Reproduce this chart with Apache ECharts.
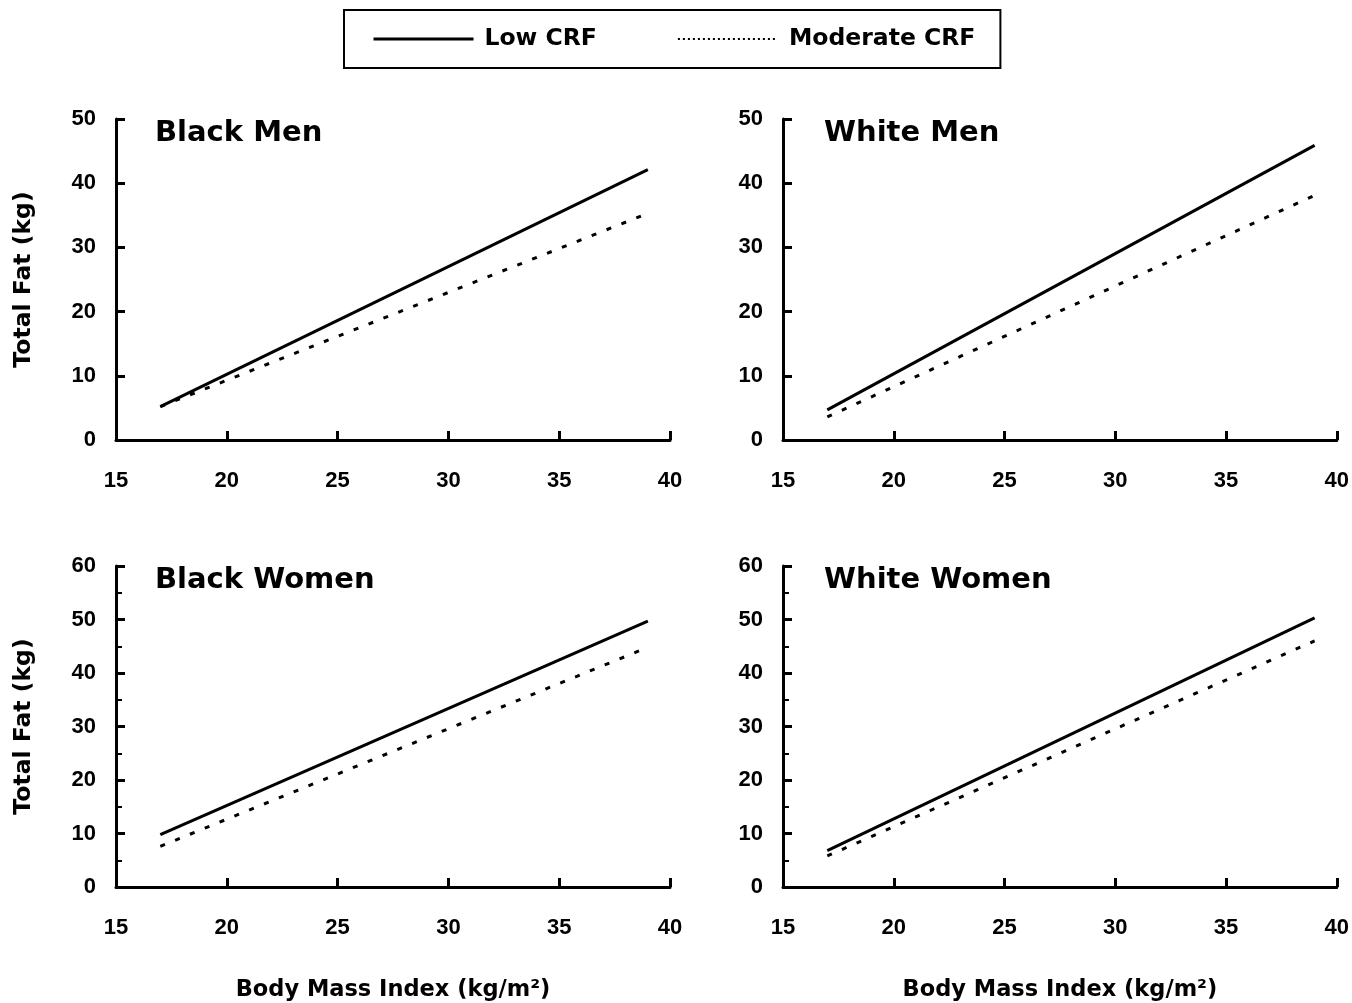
<!DOCTYPE html>
<html>
<head>
<meta charset="utf-8">
<title>Total fat vs BMI by CRF</title>
<script src="https://cdn.jsdelivr.net/npm/echarts@6/dist/echarts.min.js"></script>
<style>
  html, body { margin: 0; padding: 0; background: #fff; }
  #main { width: 1352px; height: 1003px; }
</style>
</head>
<body>
<div id="main"></div>
<script>
// panel titles
var panels = ['Black Men', 'White Men', 'Black Women', 'White Women']
// BMI range of each fitted line (x values)
var bmi = [17, 39]
// total fat (kg) at the two ends
var lowCRF = [
  [5.2, 42.1],
  [4.7, 45.9],
  [9.8, 49.7],
  [6.8, 50.3]
]
var moderateCRF = [
  [5.2, 35.3],
  [3.6, 38.1],
  [7.6, 44.8],
  [5.8, 46.0]
]
var yMax = [50, 50, 60, 60]

var wide = 'DejaVu Sans, Verdana, sans-serif'
var narrow = 'Liberation Sans, Arial, sans-serif'
var grids = [
  { left: 116, top: 119, width: 554, height: 321 },
  { left: 783, top: 119, width: 555, height: 321 },
  { left: 116, top: 566, width: 554, height: 322 },
  { left: 783, top: 566, width: 555, height: 322 }
]

function pairs (ys) {
  return bmi.map(function (x, i) { return [x, ys[i]] })
}

var xAxes = []
var yAxes = []
var series = []
var titles = []
panels.forEach(function (name, i) {
  var bottom = i >= 2
  var left = i % 2 === 0
  titles.push({
    text: name,
    left: grids[i].left + (left ? 34 : 36),
    top: grids[i].top - 5,
    textStyle: { fontFamily: wide, fontWeight: 'bold', fontSize: 29, color: '#000' }
  })
  xAxes.push({
    type: 'value',
    gridIndex: i,
    min: 15,
    max: 40,
    interval: 5,
    name: bottom ? 'Body Mass Index (kg/m²)' : '',
    nameLocation: 'middle',
    nameGap: 92,
    nameTextStyle: { fontFamily: wide, fontWeight: 'bold', fontSize: 22.5, color: '#000' },
    axisLine: { lineStyle: { color: '#000', width: 3 } },
    axisTick: { inside: true, length: 9, lineStyle: { color: '#000', width: 3 } },
    axisLabel: { margin: 30, fontFamily: narrow, fontWeight: 'bold', fontSize: 22, color: '#000' },
    splitLine: { show: false }
  })
  yAxes.push({
    type: 'value',
    gridIndex: i,
    min: 0,
    max: yMax[i],
    interval: 10,
    name: left ? 'Total Fat (kg)' : '',
    nameLocation: 'middle',
    nameGap: 80,
    nameTextStyle: { fontFamily: wide, fontWeight: 'bold', fontSize: 23.5, color: '#000' },
    axisLine: { show: true, lineStyle: { color: '#000', width: 3 } },
    axisTick: { inside: true, length: 9, lineStyle: { color: '#000', width: 3 } },
    minorTick: { show: bottom, splitNumber: 2, length: 6, lineStyle: { color: '#000', width: 2 } },
    axisLabel: { margin: 20, fontFamily: narrow, fontWeight: 'bold', fontSize: 22, color: '#000' },
    splitLine: { show: false }
  })
  series.push({
    name: 'Low CRF',
    type: 'line',
    xAxisIndex: i,
    yAxisIndex: i,
    symbol: 'none',
    data: pairs(lowCRF[i]),
    lineStyle: { color: '#000', width: 3 },
    itemStyle: { color: '#000' }
  })
  series.push({
    name: 'Moderate CRF',
    type: 'line',
    xAxisIndex: i,
    yAxisIndex: i,
    symbol: 'none',
    data: pairs(moderateCRF[i]),
    lineStyle: { color: '#000', width: 3, type: [5, 11] },
    itemStyle: { color: '#000' }
  })
})

var chart = echarts.init(document.getElementById('main'))
chart.setOption({
  animation: false,
  title: titles,
  legend: {
    left: 344,
    top: 10,
    padding: [17, 25, 17, 28],
    borderColor: '#000',
    borderWidth: 2,
    itemWidth: 100,
    itemHeight: 4,
    itemGap: 80,
    textStyle: { fontFamily: wide, fontWeight: 'bold', fontSize: 23.5, color: '#000', padding: [0, 0, 0, 6] },
    data: [
      { name: 'Low CRF', itemStyle: { opacity: 0 }, lineStyle: { width: 3, type: 'solid' } },
      { name: 'Moderate CRF', itemStyle: { opacity: 0 }, lineStyle: { width: 2, type: [2, 3] } }
    ]
  },
  grid: grids,
  xAxis: xAxes,
  yAxis: yAxes,
  series: series
})
</script>
</body>
</html>
